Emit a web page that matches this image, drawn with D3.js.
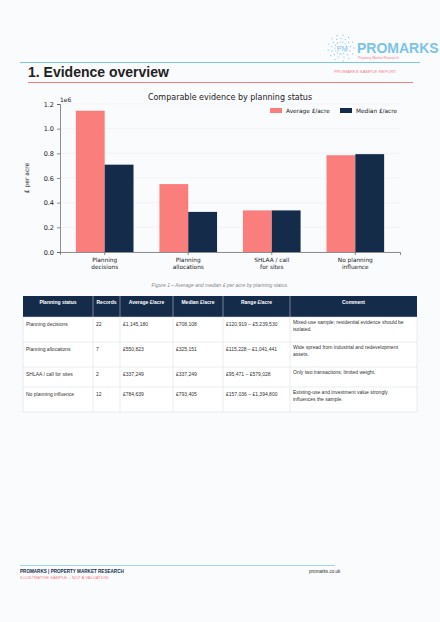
<!DOCTYPE html>
<html><head><meta charset="utf-8">
<script src="https://cdn.jsdelivr.net/npm/d3@7"></script>
<style>body{margin:0;background:#fafbfd;}svg{display:block;font-family:"Liberation Sans",Arial,sans-serif;}</style>
</head><body>
<svg id="page" width="440" height="622"></svg>
<script>
// chart data
var categories = [["Planning", "decisions"], ["Planning", "allocations"], ["SHLAA / call", "for sites"], ["No planning", "influence"]];
var averageValues = [1145180, 550823, 337249, 784639];
var medianValues = [708108, 325151, 337249, 793405];
var yTicks = [0, 0.2, 0.4, 0.6, 0.8, 1.0, 1.2];

// table data
var tableHeaders = ["Planning status", "Records", "Average £/acre", "Median £/acre", "Range £/acre", "Comment"];
var tableRows = [
  ["Planning decisions", "22", "£1,145,180", "£708,108", "£120,919 – £5,239,530", ["Mixed-use sample; residential evidence should be", "isolated."]],
  ["Planning allocations", "7", "£550,823", "£325,151", "£115,228 – £1,041,441", ["Wide spread from industrial and redevelopment", "assets."]],
  ["SHLAA / call for sites", "2", "£337,249", "£337,249", "£95,471 – £579,028", ["Only two transactions; limited weight."]],
  ["No planning influence", "12", "£784,639", "£793,405", "£157,036 – £1,394,800", ["Existing-use and investment value strongly", "influences the sample."]]
];

(function() {
var pink = "#fa7f7c", navy = "#142c4a", red = "#f07f86", blue = "#7cc3e8";
var svg = d3.select("#page");

// header
svg.append("rect").attr("width", 440).attr("height", 622).attr("fill", "#fafbfd");
var logo = svg.append("g");
for (var i = 0; i < 40; i++) {
  var a = Math.PI * 0.55 + i * 0.157, r = 6 + (i % 3) * 3.5;
  logo.append("circle").attr("cx", 341 + Math.cos(a) * r).attr("cy", 48 + Math.sin(a) * r).attr("r", 0.6).attr("fill", blue);
}
logo.append("text").attr("x", 337).attr("y", 51).attr("font-size", 7).attr("fill", blue).text("PM");
logo.append("text").attr("x", 357).attr("y", 53).attr("font-size", 14).attr("font-weight", "bold").attr("fill", blue).text("PROMARKS");
logo.append("text").attr("x", 358).attr("y", 59).attr("font-size", 3.5).attr("fill", red).text("Property Market Research");
svg.append("line").attr("x1", 20).attr("x2", 420).attr("y1", 62.5).attr("y2", 62.5).attr("stroke", blue).attr("stroke-width", 1);
svg.append("text").attr("x", 28).attr("y", 77).attr("font-size", 14).attr("font-weight", "bold").attr("fill", "#222").text("1. Evidence overview");
svg.append("text").attr("x", 334).attr("y", 73).attr("font-size", 4.3).attr("fill", red).text("PROMARKS SAMPLE REPORT");
svg.append("line").attr("x1", 28).attr("x2", 413).attr("y1", 82.5).attr("y2", 82.5).attr("stroke", red).attr("stroke-width", 1);

// chart
var pLeft = 60, pRight = 400, pTop = 104, pBottom = 252;
var x = d3.scaleBand().domain(d3.range(categories.length)).range([pLeft, pRight]).paddingInner(0.31).paddingOuter(0.19);
var y = d3.scaleLinear().domain([0, 1.2e6]).range([pBottom, pTop]);
var bw = x.bandwidth() / 2;
var chart = svg.append("g");

chart.selectAll(".grid").data(yTicks).enter().append("line")
  .attr("x1", pLeft).attr("x2", pRight).attr("y1", function(d) { return y(d * 1e6); }).attr("y2", function(d) { return y(d * 1e6); })
  .attr("stroke", "#eef0f3").attr("stroke-width", 0.6);

chart.selectAll(".avg").data(averageValues).enter().append("rect")
  .attr("x", function(d, i) { return x(i); }).attr("width", bw)
  .attr("y", function(d) { return y(d); }).attr("height", function(d) { return pBottom - y(d); }).attr("fill", pink);
chart.selectAll(".med").data(medianValues).enter().append("rect")
  .attr("x", function(d, i) { return x(i) + bw; }).attr("width", bw)
  .attr("y", function(d) { return y(d); }).attr("height", function(d) { return pBottom - y(d); }).attr("fill", navy);

var yAxis = chart.append("g").attr("transform", "translate(" + pLeft + ",0)")
  .call(d3.axisLeft(y).tickValues(yTicks.map(function(d) { return d * 1e6; })).tickSize(3).tickFormat(function(d) { return (d / 1e6).toFixed(1); }));
var xAxis = chart.append("g").attr("transform", "translate(0," + pBottom + ")")
  .call(d3.axisBottom(x).tickSize(3).tickFormat(""));
xAxis.selectAll(".tick text").remove();
[yAxis, xAxis].forEach(function(ax) {
  ax.selectAll("path,line").attr("stroke", "#444").attr("stroke-width", 0.6);
  ax.selectAll("text").attr("font-size", 6.5).attr("fill", "#222").attr("font-family", "DejaVu Sans");
});
xAxis.selectAll(".tick").append("text").attr("text-anchor", "middle").attr("font-size", 5.8).attr("font-weight", "normal").attr("fill", "#222").attr("font-family", "DejaVu Sans")
  .selectAll("tspan").data(function(d) { return categories[d]; }).enter().append("tspan")
  .attr("x", 0).attr("y", function(d, i) { return 10 + i * 6.5; }).text(function(d) { return d; });

chart.append("text").attr("x", pLeft).attr("y", 102).attr("font-size", 6).attr("font-family", "DejaVu Sans").attr("fill", "#222").text("1e6");
chart.append("text").attr("transform", "translate(29," + ((pTop + pBottom) / 2) + ") rotate(-90)").attr("text-anchor", "middle")
  .attr("font-size", 6).attr("font-family", "DejaVu Sans").attr("fill", "#222").text("£ per acre");
chart.append("text").attr("x", 230).attr("y", 100).attr("text-anchor", "middle").attr("font-size", 8).attr("font-family", "DejaVu Sans").attr("fill", "#222").text("Comparable evidence by planning status");

var legend = [["Average £/acre", pink, 270], ["Median £/acre", navy, 340]];
legend.forEach(function(l) {
  chart.append("rect").attr("x", l[2]).attr("y", 108).attr("width", 12).attr("height", 5).attr("fill", l[1]);
  chart.append("text").attr("x", l[2] + 16).attr("y", 113).attr("font-size", 5.8).attr("font-family", "DejaVu Sans").attr("fill", "#222").text(l[0]);
});

svg.append("text").attr("x", 220).attr("y", 287).attr("text-anchor", "middle").attr("font-size", 5).attr("font-style", "italic").attr("fill", "#888")
  .text("Figure 1 – Average and median £ per acre by planning status.");

// table
var colX = [23, 93, 120, 173, 223, 290, 417];
var rowY = [296, 317, 342, 367, 387, 412];
var tbl = svg.append("g");
tbl.append("rect").attr("x", colX[0]).attr("y", rowY[0]).attr("width", colX[6] - colX[0]).attr("height", rowY[1] - rowY[0]).attr("fill", navy);
tbl.append("rect").attr("x", colX[0]).attr("y", rowY[1]).attr("width", colX[6] - colX[0]).attr("height", rowY[5] - rowY[1]).attr("fill", "#fff").attr("stroke", "#d5d8dd").attr("stroke-width", 0.5);
tableHeaders.forEach(function(h, c) {
  tbl.append("text").attr("x", (colX[c] + colX[c + 1]) / 2).attr("y", rowY[0] + 8).attr("text-anchor", "middle")
    .attr("font-size", 5).attr("font-weight", "bold").attr("fill", "#fff").text(h);
});
rowY.slice(2, 5).forEach(function(yy) {
  tbl.append("line").attr("x1", colX[0]).attr("x2", colX[6]).attr("y1", yy).attr("y2", yy).attr("stroke", "#d5d8dd").attr("stroke-width", 0.5);
});
colX.slice(1, 6).forEach(function(xx) {
  tbl.append("line").attr("x1", xx).attr("x2", xx).attr("y1", rowY[0]).attr("y2", rowY[5]).attr("stroke", "#d5d8dd").attr("stroke-width", 0.5);
});
tableRows.forEach(function(row, r) {
  row.forEach(function(cell, c) {
    var lines = Array.isArray(cell) ? cell : [cell];
    lines.forEach(function(t, k) {
      tbl.append("text").attr("x", colX[c] + 3).attr("y", rowY[r + 1] + (c === 5 ? 7 : 9) + k * 7).attr("font-size", 5).attr("fill", "#333").text(t);
    });
  });
});

// footer
svg.append("line").attr("x1", 20).attr("x2", 335).attr("y1", 565.5).attr("y2", 565.5).attr("stroke", blue).attr("stroke-width", 0.7);
svg.append("text").attr("x", 20).attr("y", 573).attr("font-size", 4.6).attr("font-weight", "bold").attr("fill", navy).text("PROMARKS | PROPERTY MARKET RESEARCH");
svg.append("text").attr("x", 20).attr("y", 579).attr("font-size", 4.2).attr("fill", red).text("ILLUSTRATIVE SAMPLE – NOT A VALUATION");
svg.append("text").attr("x", 309).attr("y", 573).attr("font-size", 4.6).attr("fill", "#333").text("promarks.co.uk");
})();
</script>
</body></html>
